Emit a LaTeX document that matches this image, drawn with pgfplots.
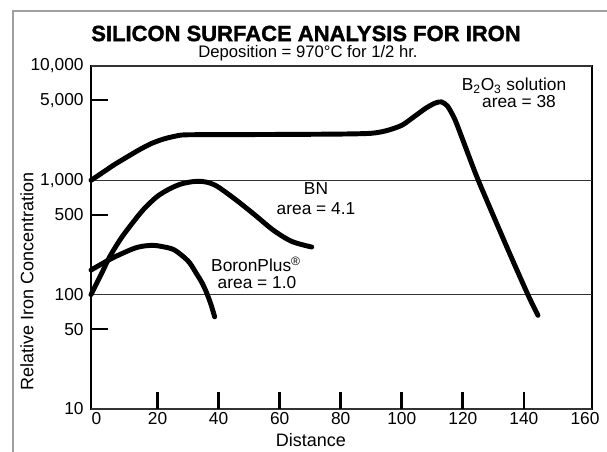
\documentclass[border=0pt]{standalone}
\usepackage{fontspec}
\setmainfont{Liberation Sans}
\newfontfamily\titlefont[FakeBold=1.6]{Liberation Sans Bold}
\usepackage{pgfplots}
\pgfplotsset{compat=1.18}
\usepackage{pgfplotstable}

\pgfplotstableread{
x y
-1.8 1000
2 1170
6 1380
10 1600
14 1850
18 2100
22 2300
26 2440
29 2500
40 2510
60 2520
80 2540
90 2580
95 2720
100 3030
104 3600
108 4300
111 4750
113 4850
115 4450
117.4 3400
120 2250
124.6 1070
130 490
135 240
141.3 100
144.6 66
}\bto

\pgfplotstableread{
x y
-1.8 100
0 125
2 160
4.3 214
8 310
11.8 424
15.5 560
19.7 716
23.5 830
27.2 920
31 970
34 980
37 950
40 870
46 665
52 495
58 365
64 292
70.5 261
}\bn

\pgfplotstableread{
x y
-1.8 164
0 175
5.2 209
11.8 251
15 265
18.4 270
21 265
25 250
28 220
30.5 190
32.8 152
34.5 128
36 105
37.5 82
38.7 64
}\bp

\begin{document}
\begin{tikzpicture}[x=0.75pt,y=0.75pt]
\useasboundingbox (-91,-42) rectangle (516,409);
\draw[gray!75, line width=1.1pt] (-78,-80) -- (-78,398) -- (540,398);
\begin{axis}[
  at={(0,0)}, anchor=south west,
  scale only axis, width=375.75pt, height=257.25pt,
  ymode=log, xmin=-1.8, xmax=162.3, ymin=10, ymax=10000,
  /pgf/number format/assume math mode=true,
  axis line style={line width=1.6pt},
  tick style={black, line width=1.6pt},
  tick align=inside,
  xtick pos=bottom, ytick pos=left,
  major tick length=13pt,
  xminorticks=false, yminorticks=false,
  xtick={0,20,40,...,160},
  xticklabels={0,20,40,60,80,100,120,140,160},
  xtick style={draw=none},
  ytick={50,500,5000},
  yticklabels={50,500,{5,000}},
  extra y ticks={10,100,1000,10000},
  extra y tick labels={10,100,{1,000},{10,000}},
  extra y tick style={major tick length=0pt, grid=major,
     major grid style={black!80, line width=0.9pt}},
  ticklabel style={font=\fontsize{13}{15}\selectfont},
  yticklabel style={xshift=-2pt},
  xticklabel style={yshift=1pt},
  clip=false,
]
\addplot[black, line width=3.7pt, smooth, tension=0.45, line cap=round] table[x=x,y=y] {\bto};
\addplot[black, line width=3.7pt, smooth, tension=0.5, line cap=round] table[x=x,y=y] {\bn};
\addplot[black, line width=3.7pt, smooth, tension=0.5, line cap=round] table[x=x,y=y] {\bp};
\end{axis}
\foreach \t in {66.6,127.6,188.7,249.7,310.8,371.8,432.9}{
  \draw[black, line width=2pt] (\t,0) -- (\t,17);
}
\node[inner sep=0pt, font=\titlefont\fontsize{16.5}{18}\selectfont] at (215,375.5) {SILICON SURFACE ANALYSIS FOR IRON};
\node[inner sep=0pt, font=\fontsize{12.5}{14}\selectfont] at (217,356) {Deposition = 970°C for 1/2 hr.};
\node[font=\fontsize{13.5}{15}\selectfont, rotate=90] at (-64,128) {Relative Iron Concentration};
\node[font=\fontsize{13.5}{15}\selectfont] at (220,-31) {Distance};
\node[font=\fontsize{13}{15}\selectfont] at (423,323) {B\textsubscript{2}O\textsubscript{3} solution};
\node[font=\fontsize{13}{15}\selectfont] at (428,307) {area = 38};
\node[font=\fontsize{13}{15}\selectfont] at (225,220) {BN};
\node[font=\fontsize{13}{15}\selectfont] at (225,200) {area = 4.1};
\node[font=\fontsize{13}{15}\selectfont] at (165,145) {BoronPlus\textsuperscript{®}};
\node[font=\fontsize{13}{15}\selectfont] at (166,126) {area = 1.0};
\end{tikzpicture}
\end{document}
